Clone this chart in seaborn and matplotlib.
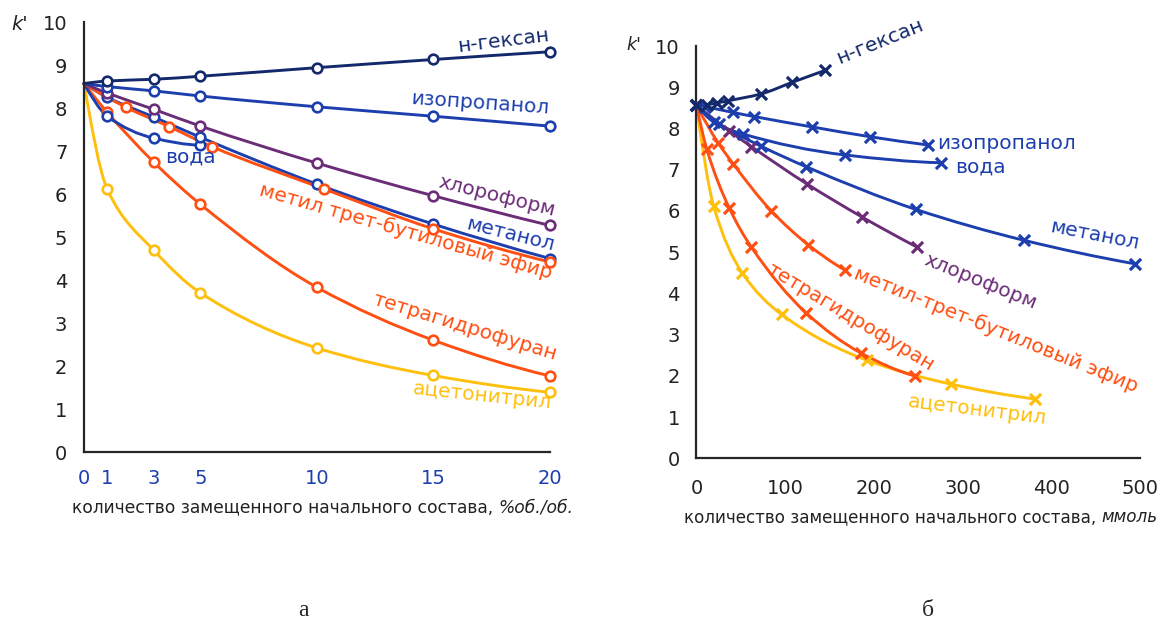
import numpy as np
import pandas as pd
import matplotlib
matplotlib.use("Agg")
import matplotlib.pyplot as plt
from matplotlib.path import Path
from matplotlib.patches import PathPatch
from matplotlib.ticker import MultipleLocator, FixedLocator
import seaborn as sns

# ---------------- panel а: k' vs. replaced share of the initial composition, % v/v
pct = [0, 1, 3, 5, 10, 15, 20]
hexane_a = [8.57, 8.63, 8.67, 8.74, 8.94, 9.13, 9.31]
ipa_a = [8.57, 8.50, 8.40, 8.28, 8.03, 7.81, 7.58]
chcl3_a = [8.57, 8.35, 7.97, 7.58, 6.72, 5.96, 5.27]
meoh_a = [8.57, 8.25, 7.79, 7.32, 6.23, 5.30, 4.50]
water_pct = [0, 1, 3, 5]
water_a = [8.57, 7.81, 7.30, 7.14]
mtbe_pct = [0, 1.8, 3.65, 5.5, 10.3, 15, 20]
mtbe_a = [8.57, 8.02, 7.57, 7.10, 6.12, 5.19, 4.42]
thf_a = [8.57, 7.90, 6.74, 5.76, 3.83, 2.60, 1.77]
acn_a = [8.57, 6.11, 4.69, 3.70, 2.42, 1.78, 1.39]
pct_ticks = [0, 1, 3, 5, 10, 15, 20]

# ---------------- panel б: k' vs. replaced amount, mmol
hexane_mm = [0, 12, 23, 35, 73, 108, 145]
hexane_b = [8.57, 8.58, 8.62, 8.67, 8.84, 9.12, 9.41]
ipa_mm = [0, 10, 41, 65, 130, 196, 261]
ipa_b = [8.57, 8.53, 8.39, 8.29, 8.04, 7.80, 7.60]
water_mm = [0, 20, 52, 167, 276]
water_b = [8.57, 8.15, 7.87, 7.36, 7.17]
meoh_mm = [0, 25, 73, 124, 247, 369, 494]
meoh_b = [8.57, 8.12, 7.57, 7.07, 6.04, 5.29, 4.72]
chcl3_mm = [0, 37, 62, 125, 187, 249]
chcl3_b = [8.57, 7.94, 7.56, 6.65, 5.85, 5.12]
mtbe_mm = [0, 24.5, 41.5, 84, 126, 167]
mtbe_b = [8.57, 7.65, 7.14, 6.01, 5.18, 4.57]
thf_mm = [0, 11.5, 37, 62, 124, 185, 246]
thf_b = [8.57, 7.51, 6.07, 5.12, 3.52, 2.56, 2.00]
acn_mm = [0, 19.5, 51.5, 96, 192, 287, 382]
acn_b = [8.57, 6.11, 4.50, 3.49, 2.38, 1.80, 1.44]

NAVY = "#13296b"
BLUE = "#1d3fae"
PURPLE = "#6c2d78"
ORANGE = "#ff4f12"
GOLD = "#ffbf0d"

sns.set_theme(style="white")
plt.rcParams["font.family"] = ["DejaVu Sans"]
plt.rcParams["axes.linewidth"] = 1.6


def monotone_slopes(x, y):
    x = np.asarray(x, float)
    y = np.asarray(y, float)
    h = np.diff(x)
    d = np.diff(y) / h
    n = len(x)
    m = np.zeros(n)
    if n == 2:
        m[:] = d[0]
        return m
    for k in range(1, n - 1):
        if d[k - 1] * d[k] <= 0:
            m[k] = 0.0
        else:
            w1 = 2 * h[k] + h[k - 1]
            w2 = h[k] + 2 * h[k - 1]
            m[k] = (w1 + w2) / (w1 / d[k - 1] + w2 / d[k])

    def end(h0, h1, d0, d1):
        s = ((2 * h0 + h1) * d0 - h0 * d1) / (h0 + h1)
        if np.sign(s) != np.sign(d0):
            s = 0.0
        elif np.sign(d0) != np.sign(d1) and abs(s) > abs(3 * d0):
            s = 3 * d0
        return s

    m[0] = end(h[0], h[1], d[0], d[1])
    m[-1] = end(h[-1], h[-2], d[-1], d[-2])
    return m


def smooth_curve(ax, x, y, color, lw=2.1, z=2):
    """Monotone cubic through the points, drawn as a Bezier path in data space."""
    x = np.asarray(x, float)
    y = np.asarray(y, float)
    m = monotone_slopes(x, y)
    verts = [(x[0], y[0])]
    codes = [Path.MOVETO]
    for i in range(len(x) - 1):
        h = x[i + 1] - x[i]
        verts += [(x[i] + h / 3, y[i] + m[i] * h / 3),
                  (x[i + 1] - h / 3, y[i + 1] - m[i + 1] * h / 3),
                  (x[i + 1], y[i + 1])]
        codes += [Path.CURVE4] * 3
    patch = PathPatch(Path(verts, codes), fill=False, edgecolor=color, lw=lw,
                      transform=ax.transData, zorder=z, clip_on=False,
                      capstyle="round", joinstyle="round")
    ax.add_patch(patch)


def circles(ax, x, y, color, z=3):
    df = pd.DataFrame({"x": x[1:], "y": y[1:]})
    sns.scatterplot(data=df, x="x", y="y", ax=ax, marker="o", s=48,
                    color="white", edgecolor=color, linewidth=1.9,
                    zorder=z, clip_on=False, legend=False)


def crosses(ax, x, y, color, z=3):
    df = pd.DataFrame({"x": x, "y": y})
    sns.scatterplot(data=df, x="x", y="y", ax=ax, marker="x", s=64,
                    color=color, linewidth=2.3, zorder=z, clip_on=False,
                    legend=False)


fig = plt.figure(figsize=(11.6, 6.24), dpi=100)
axA = fig.add_axes([0.0724, 0.2756, 0.4017, 0.689])
axB = fig.add_axes([0.6004, 0.2655, 0.3823, 0.6607])

# ---------------- panel а
series_a = [
    (pct, acn_a, GOLD),
    (pct, thf_a, ORANGE),
    (water_pct, water_a, BLUE),
    (pct, meoh_a, BLUE),
    (mtbe_pct, mtbe_a, ORANGE),
    (pct, chcl3_a, PURPLE),
    (pct, ipa_a, BLUE),
    (pct, hexane_a, NAVY),
]
for i, (xs, ys, c) in enumerate(series_a):
    smooth_curve(axA, xs, ys, c, z=2 + i * 0.01)
for i, (xs, ys, c) in enumerate(series_a):
    circles(axA, xs, ys, c, z=3 + i * 0.01)

axA.set_xlim(0, 20)
axA.set_ylim(0, 10)
sns.despine(ax=axA)
axA.xaxis.set_major_locator(FixedLocator(pct_ticks))
axA.xaxis.set_minor_locator(MultipleLocator(1))
axA.yaxis.set_major_locator(MultipleLocator(1))
axA.yaxis.set_minor_locator(MultipleLocator(0.5))
axA.tick_params(axis="x", which="major", direction="out", length=7, width=2,
                color=BLUE, labelcolor=BLUE, labelsize=14, pad=5)
axA.tick_params(axis="x", which="minor", direction="out", length=4, width=1.4,
                color="black")
axA.tick_params(axis="y", which="major", direction="out", length=5, width=1.5,
                color="black", labelcolor="#222222", labelsize=14, pad=7)
axA.tick_params(axis="y", which="minor", direction="out", length=3, width=1.3,
                color="black")
axA.set_xlabel("")
axA.set_ylabel("")

lab = dict(fontsize=14.5, ha="center", va="center", rotation_mode="anchor", zorder=5)
axA.text(17.98, 9.57, "н-гексан", color=NAVY, rotation=7, **lab)
axA.text(16.98, 8.11, "изопропанол", color=BLUE, rotation=-4, **lab)
axA.text(17.72, 5.95, "хлороформ", color=PURPLE, rotation=-14, **lab)
axA.text(18.31, 5.05, "метанол", color=BLUE, rotation=-14, **lab)
axA.text(13.82, 5.14, "метил трет-бутиловый эфир", color=ORANGE, rotation=-16, **lab)
axA.text(4.55, 6.86, "вода", color=BLUE, rotation=0, **lab)
axA.text(16.35, 2.91, "тетрагидрофуран", color=ORANGE, rotation=-17, **lab)
axA.text(17.07, 1.31, "ацетонитрил", color=GOLD, rotation=-6, **lab)

# ---------------- panel б
series_b = [
    (acn_mm, acn_b, GOLD),
    (thf_mm, thf_b, ORANGE),
    (mtbe_mm, mtbe_b, ORANGE),
    (chcl3_mm, chcl3_b, PURPLE),
    (meoh_mm, meoh_b, BLUE),
    (water_mm, water_b, BLUE),
    (ipa_mm, ipa_b, BLUE),
    (hexane_mm, hexane_b, NAVY),
]
for i, (xs, ys, c) in enumerate(series_b):
    smooth_curve(axB, xs, ys, c, z=2 + i * 0.01)
for i, (xs, ys, c) in enumerate(series_b):
    crosses(axB, xs, ys, c, z=3 + i * 0.01)

axB.set_xlim(0, 500)
axB.set_ylim(0, 10)
sns.despine(ax=axB)
axB.xaxis.set_major_locator(MultipleLocator(100))
axB.xaxis.set_minor_locator(MultipleLocator(50))
axB.yaxis.set_major_locator(MultipleLocator(1))
axB.yaxis.set_minor_locator(MultipleLocator(0.5))
axB.tick_params(axis="x", which="major", direction="out", length=6, width=1.5,
                color="black", labelcolor="#222222", labelsize=14, pad=9)
axB.tick_params(axis="x", which="minor", direction="out", length=4, width=1.3,
                color="black")
axB.tick_params(axis="y", which="major", direction="out", length=5, width=1.5,
                color="black", labelcolor="#222222", labelsize=14, pad=7)
axB.tick_params(axis="y", which="minor", direction="out", length=3, width=1.3,
                color="black")
axB.set_xlabel("")
axB.set_ylabel("")

axB.text(207, 10.1, "н-гексан", color=NAVY, rotation=22, clip_on=False, **lab)
axB.text(350, 7.64, "изопропанол", color=BLUE, rotation=0, **lab)
axB.text(320, 7.07, "вода", color=BLUE, rotation=0, **lab)
axB.text(449, 5.42, "метанол", color=BLUE, rotation=-11, **lab)
axB.text(320, 4.28, "хлороформ", color=PURPLE, rotation=-22, **lab)
axB.text(338, 3.12, "метил-трет-бутиловый эфир", color=ORANGE, rotation=-22, **lab)
axB.text(174, 3.43, "тетрагидрофуран", color=ORANGE, rotation=-31, **lab)
axB.text(316, 1.17, "ацетонитрил", color=GOLD, rotation=-7, **lab)

# ---------------- axis captions
fig.text(11 / 1160, 1 - 25 / 624, "k'", fontsize=14, style="italic",
         ha="left", va="center", color="#222222")
fig.text(626 / 1160, 1 - 45 / 624, "k'", fontsize=12.5, style="italic",
         ha="left", va="center", color="#222222")

t1 = fig.text(72 / 1160, 1 - 507 / 624, "количество замещенного начального состава, ",
              fontsize=12.3, ha="left", va="center", color="#222222")
axA.annotate("%об./об.", xy=(1, 0.5), xycoords=t1, ha="left", va="center",
             fontsize=12.3, style="italic", color="#222222", annotation_clip=False)

t2 = fig.text(684 / 1160, 1 - 517 / 624, "количество замещенного начального состава, ",
              fontsize=12.1, ha="left", va="center", color="#222222")
axB.annotate("ммоль", xy=(1, 0.5), xycoords=t2, ha="left", va="center",
             fontsize=12.1, style="italic", color="#222222", annotation_clip=False)

fig.text(303 / 1160, 1 - 610 / 624, "а", fontsize=17, family="Liberation Serif",
         ha="center", va="center")
fig.text(928 / 1160, 1 - 610 / 624, "б", fontsize=17, family="Liberation Serif",
         ha="center", va="center")

fig.savefig("out.png", dpi=100)
